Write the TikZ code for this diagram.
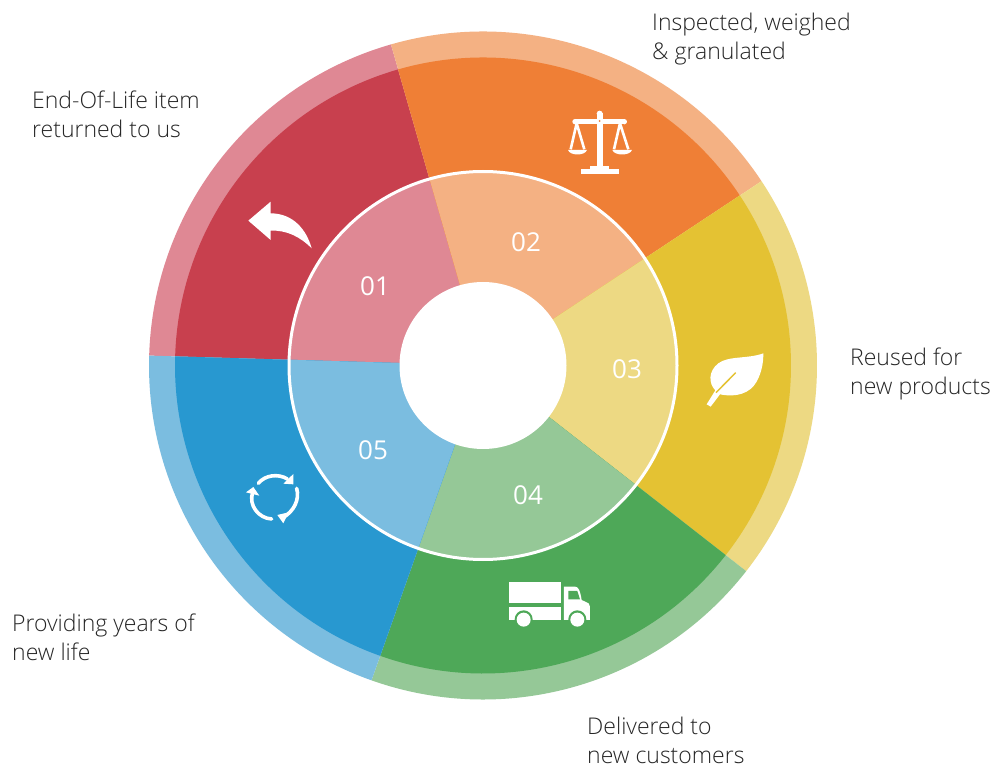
\documentclass[tikz,border=0pt]{standalone}
\usepackage{fontspec}
\setmainfont{Open Sans Light}
\newfontfamily\numfont{Open Sans}
\definecolor{redD}{HTML}{C8404E}\definecolor{redL}{HTML}{DF8894}
\definecolor{orgD}{HTML}{EF7F36}\definecolor{orgL}{HTML}{F4B183}
\definecolor{yelD}{HTML}{E4C233}\definecolor{yelL}{HTML}{EDD983}
\definecolor{grnD}{HTML}{4EA858}\definecolor{grnL}{HTML}{95C897}
\definecolor{bluD}{HTML}{2898D0}\definecolor{bluL}{HTML}{7BBDE0}
\definecolor{txt}{HTML}{262626}
\newcommand{\sect}[4]{\fill[#1] (0,0) -- (-#2:#4) arc[start angle=-#2,end angle=-#3,radius=#4] -- cycle;}
\newcommand{\trio}[5]{\sect{#4}{#1}{#2}{334}\sect{#3}{#1}{#2}{308}\sect{#4}{#1}{#2}{194}}
\tikzset{
  lab/.style={anchor=west,inner sep=0,align=left,text=txt,font=\fontsize{23}{29}\selectfont},
  num/.style={inner sep=0,text=white,font=\numfont\fontsize{26}{30}\selectfont},
  icon/.style={x=0.3333pt,y=-0.3333pt}
}
\begin{document}
\begin{tikzpicture}[x=1pt,y=-1pt]
\useasboundingbox (0,0) rectangle (994,767);
\fill[white] (0,0) rectangle (994,767);
\begin{scope}[shift={(483,365.5)}]
  \trio{106}{178.3}{redD}{redL}{}
  \trio{33.5}{106}{orgD}{orgL}{}
  \trio{-38}{33.5}{yelD}{yelL}{}
  \trio{250.5}{322}{grnD}{grnL}{}
  \trio{178.3}{250.5}{bluD}{bluL}{}
  \draw[white,line width=3pt] (0,0) circle[radius=194];
  \fill[white] (0,0) circle[radius=83.5];
\end{scope}
\node[num] (n1) at (375,286) {01};
\node[num] (n2) at (526,242) {02};
\node[num] (n3) at (627,369) {03};
\node[num] (n4) at (528,495) {04};
\node[num] (n5) at (373,450) {05};
\node[lab] (l1) at (32,114.5) {End-Of-Life item\\returned to us};
\node[lab] (l2) at (652,39) {Inspected, weighed\\\& granulated};
\node[lab] (l3) at (850,374) {Reused for\\new products};
\node[lab] (l4) at (587,740) {Delivered to\\new customers};
\node[lab] (l5) at (12,637.5) {Providing years of\\new life};
% scales
\begin{scope}[shift={(540,90)},icon]
  \fill[white] (105,88) rectangle (255,103);
  \fill[white] (105,95) circle[radius=8] (253,95) circle[radius=8];
  \fill[white] (170,70) rectangle (189,235);
  \fill[white] (179,71) circle[radius=9];
  \fill[orgD] (179,93) circle[radius=3];
  \fill[white] (150,228) rectangle (208,238);
  \fill[white] (122,237) rectangle (236,251);
  \draw[white,line width=2.6pt] (110,100) -- (92,178) (110,100) -- (133,178);
  \draw[white,line width=2.6pt] (240,100) -- (222,178) (240,100) -- (265,178);
  \fill[white] (84,180) .. controls (90,198) and (135,198) .. (141,180) -- cycle;
  \fill[white] (217,180) .. controls (223,198) and (270,198) .. (276,180) -- cycle;
\end{scope}
% back arrow
\begin{scope}[shift={(230,180)},icon]
  \fill[white] (55,122) -- (122,65) -- (122,100) .. controls (190,100) and (230,150) .. (245,205)
    .. controls (210,170) and (170,150) .. (122,152) -- (122,180) -- cycle;
\end{scope}
% leaf
\begin{scope}[shift={(690,335)},icon]
  \fill[white] (220,55) .. controls (175,72) and (115,62) .. (85,85)
    .. controls (55,108) and (55,145) .. (76,166)
    -- (50,208) -- (62,215) -- (90,178)
    .. controls (140,188) and (180,175) .. (200,140)
    .. controls (215,112) and (220,85) .. (220,55) -- cycle;
  \draw[yelD,line width=1.5pt] (137,113) -- (78,173);
\end{scope}
% truck
\begin{scope}[shift={(490,560)},icon]
  \fill[white] (58,65) rectangle (213,130);
  \fill[white] (58,141) rectangle (213,180);
  \fill[white] (222,80) -- (255,80) .. controls (265,80) and (270,90) .. (275,120)
    -- (296,130) -- (300,140) -- (300,180) -- (222,180) -- cycle;
  \fill[grnD] (235,93) -- (262,93) -- (270,118) -- (235,118) -- cycle;
  \fill[grnD] (101,178) circle[radius=27] (262,178) circle[radius=27];
  \fill[grnD] (60,181) rectangle (300,215);
  \fill[white] (101,179) circle[radius=21] (262,179) circle[radius=21];
\end{scope}
% recycle
\begin{scope}[shift={(230,455)},icon]
  \draw[white,line width=3.6pt,line cap=round] (85,85) .. controls (105,60) and (145,55) .. (172,72);
  \draw[white,line width=3.6pt,line cap=round] (200,100) .. controls (210,135) and (190,170) .. (160,187);
  \draw[white,line width=3.6pt,line cap=round] (125,192) .. controls (85,190) and (55,150) .. (68,112);
  \fill[white] (190,57) -- (190,88) -- (160,86) -- cycle;
  \fill[white] (142,180) -- (176,172) -- (160,205) -- cycle;
  \fill[white] (48,112) -- (70,96) -- (88,122) -- cycle;
\end{scope}
\end{tikzpicture}
\end{document}
